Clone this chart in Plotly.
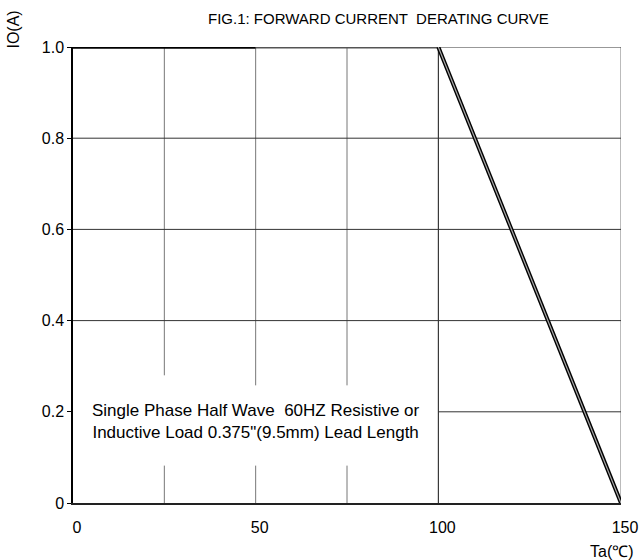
import plotly.graph_objects as go

# Data
ta = [0, 50, 100, 150]
io = [1.0, 1.0, 1.0, 0.0]
x_ticks = [0, 50, 100, 150]
x_tick_labels = ["0", "50", "100", "150"]
y_ticks = [0, 0.2, 0.4, 0.6, 0.8, 1.0]
y_tick_labels = ["0", "0.2", "0.4", "0.6", "0.8", "1.0"]
v_grid = [25, 50, 75, 100, 150]
h_grid = [0.2, 0.4, 0.6, 0.8, 1.0]

FONT = "Liberation Sans, Arial, sans-serif"

L, R, T, B = 73, 621, 46.5, 503.5
PW, PH = R - L, B - T

fig = go.Figure()

# gridlines as shapes (gaps behind the annotation box)
shapes = []
gap_low = 0.082
gap_high = {25: 0.28, 50: 0.258, 75: 0.258}
for gx in v_grid:
    col = "#111" if gx == 100 else "#777"
    if gx in gap_high:
        shapes.append(dict(type="line", xref="x", yref="y", x0=gx, x1=gx, y0=0, y1=gap_low,
                           line=dict(color=col, width=1), layer="below"))
        shapes.append(dict(type="line", xref="x", yref="y", x0=gx, x1=gx, y0=gap_high[gx], y1=1,
                           line=dict(color=col, width=1), layer="below"))
    else:
        shapes.append(dict(type="line", xref="x", yref="y", x0=gx, x1=gx, y0=0, y1=1,
                           line=dict(color=col, width=1), layer="below"))
for gy in h_grid:
    x0 = 100 if gy == 0.2 else 0
    shapes.append(dict(type="line", xref="x", yref="y", x0=x0, x1=150, y0=gy, y1=gy,
                       line=dict(color="#333", width=1), layer="below"))

# curve segments
fig.add_trace(go.Scatter(x=ta[0:2], y=io[0:2], mode="lines",
                         line=dict(color="#000", width=3.5), showlegend=False, hoverinfo="skip"))
fig.add_trace(go.Scatter(x=ta[1:3], y=io[1:3], mode="lines",
                         line=dict(color="#555", width=3), showlegend=False, hoverinfo="skip"))
fig.add_trace(go.Scatter(x=ta[2:4], y=io[2:4], mode="lines",
                         line=dict(color="#000", width=4), showlegend=False, hoverinfo="skip"))
fig.add_trace(go.Scatter(x=ta[2:4], y=io[2:4], mode="lines",
                         line=dict(color="#aaa", width=1.2), showlegend=False, hoverinfo="skip"))

fig.update_layout(
    width=643, height=560,
    margin=dict(l=L, r=643 - R, t=T, b=560 - B, autoexpand=False),
    paper_bgcolor="white", plot_bgcolor="white",
    font=dict(family=FONT, color="#000", size=16),
    shapes=shapes,
    xaxis=dict(range=[0, 150], showgrid=False, zeroline=False, showline=True,
               linecolor="#222", linewidth=1.5, tickvals=x_ticks, ticktext=x_tick_labels,
               ticks="outside", ticklen=9, tickcolor="rgba(0,0,0,0)",
               ticklabelshift=4,
               tickfont=dict(size=16, family=FONT)),
    yaxis=dict(range=[0, 1], showgrid=False, zeroline=False, showline=True,
               linecolor="#000", linewidth=1.5, tickvals=y_ticks, ticktext=y_tick_labels,
               ticks="outside", ticklen=4, tickcolor="#000", tickwidth=1,
               tickfont=dict(size=16, family=FONT)),
    annotations=[
        dict(text="FIG.1: FORWARD CURRENT  DERATING CURVE", xref="paper", yref="paper",
             x=(378 - L) / PW, y=1 + (T - 18) / PH, showarrow=False,
             font=dict(size=15, family=FONT), xanchor="center", yanchor="middle"),
        dict(text="IO(A)", xref="paper", yref="paper", x=-(L - 14) / PW,
             y=1 + (T - 29) / PH, showarrow=False, textangle=-90,
             font=dict(size=16, family=FONT), xanchor="center", yanchor="middle"),
        dict(text="Ta(℃)", xref="paper", yref="paper", x=(612 - L) / PW,
             y=-(552 - B) / PH, showarrow=False,
             font=dict(size=16, family=FONT), xanchor="center", yanchor="middle"),
        dict(text="Single Phase Half Wave  60HZ Resistive or<br>Inductive Load 0.375\"(9.5mm) Lead Length",
             xref="paper", yref="paper", x=(256 - L) / PW, y=(B - 422) / PH,
             showarrow=False, align="center", font=dict(size=17, family=FONT),
             xanchor="center", yanchor="middle"),
    ],
)

fig.write_html("out.html", config={"displayModeBar": False},
               post_script="document.body.style.margin='0';document.body.style.overflow='hidden';")
